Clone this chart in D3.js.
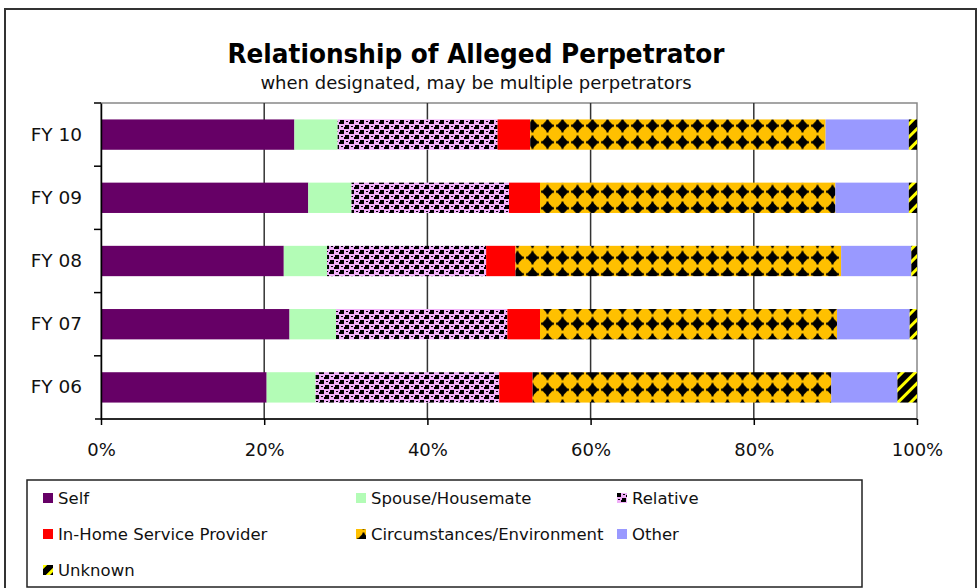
<!DOCTYPE html>
<meta charset="utf-8">
<style type="text/css">
  body {
    margin: 0;
    background: #fff;
    font-family: "DejaVu Sans", sans-serif;
  }
  .axis text {
    font-family: "DejaVu Sans", sans-serif;
    fill: #111;
  }
</style>
<body>
</body>
<script src="https://d3js.org/d3.v7.min.js"></script>
<script>
  // fiscal years, top to bottom
  var years = ["FY 10", "FY 09", "FY 08", "FY 07", "FY 06"];
  var series = ["Self", "Spouse/Housemate", "Relative", "In-Home Service Provider",
    "Circumstances/Environment", "Other", "Unknown"];
  // share of each relationship, percent, one array per series (same order as years)
  var self = [23.7, 25.4, 22.4, 23.1, 20.3];
  var spouse = [5.3, 5.3, 5.3, 5.7, 6.0];
  var relative = [19.6, 19.3, 19.5, 21.0, 22.5];
  var inHome = [4.0, 3.8, 3.6, 4.0, 4.1];
  var circumstances = [36.2, 36.2, 39.9, 36.4, 36.6];
  var other = [10.2, 9.0, 8.6, 8.9, 8.1];
  var unknown = [1.0, 1.0, 0.7, 0.9, 2.4];
  var xTicks = [0, 20, 40, 60, 80, 100];

  var values = [self, spouse, relative, inHome, circumstances, other, unknown];
  var rows = years.map(function(y, i) {
    var r = { year: y };
    series.forEach(function(s, j) { r[s] = values[j][i]; });
    return r;
  });

  var W = 980, H = 588;
  var plot = { left: 101, right: 917, top: 103, bottom: 419 };

  var svg = d3.select("body").append("svg")
    .attr("width", W)
    .attr("height", H);

  var defs = svg.append("defs");

  // Relative: pink with black checks
  var pRel = defs.append("pattern").attr("id", "pRel")
    .attr("patternUnits", "userSpaceOnUse").attr("width", 10).attr("height", 10);
  pRel.append("rect").attr("width", 10).attr("height", 10).attr("fill", "#f0b0f8");
  pRel.append("rect").attr("x", 0).attr("y", 0).attr("width", 4).attr("height", 4).attr("fill", "#000");
  pRel.append("rect").attr("x", 5).attr("y", 5).attr("width", 4).attr("height", 4).attr("fill", "#000");
  pRel.append("rect").attr("x", 6).attr("y", 1).attr("width", 2).attr("height", 1).attr("fill", "#000");
  pRel.append("rect").attr("x", 1).attr("y", 6).attr("width", 2).attr("height", 1).attr("fill", "#000");
  pRel.append("rect").attr("x", 9).attr("y", 2).attr("width", 1).attr("height", 2).attr("fill", "#000");
  pRel.append("rect").attr("x", 4).attr("y", 7).attr("width", 1).attr("height", 2).attr("fill", "#000");

  // Circumstances: orange with black diamonds
  var pCirc = defs.append("pattern").attr("id", "pCirc")
    .attr("patternUnits", "userSpaceOnUse").attr("width", 15).attr("height", 16.5)
    .attr("y", 2);
  pCirc.append("rect").attr("width", 15).attr("height", 16.5).attr("fill", "#ffc000");
  pCirc.append("path").attr("d", "M7.5,2 L13.5,8.25 L7.5,14.5 L1.5,8.25 Z").attr("fill", "#000");
  pCirc.append("rect").attr("x", 1).attr("y", 7.25).attr("width", 13).attr("height", 2).attr("fill", "#000");
  pCirc.append("rect").attr("x", 6.5).attr("y", 1.5).attr("width", 2).attr("height", 13.5).attr("fill", "#000");
  pCirc.append("rect").attr("x", 4.5).attr("y", 5.25).attr("width", 6).attr("height", 6).attr("fill", "#000");

  // Unknown: black with yellow diagonal stripes
  var pUnk = defs.append("pattern").attr("id", "pUnk")
    .attr("patternUnits", "userSpaceOnUse").attr("width", 9).attr("height", 9)
    .attr("patternTransform", "rotate(45)");
  pUnk.append("rect").attr("width", 9).attr("height", 9).attr("fill", "#000");
  pUnk.append("rect").attr("width", 3).attr("height", 9).attr("fill", "#ffff00");

  var fills = {
    "Self": "#660066",
    "Spouse/Housemate": "#b3fcb6",
    "Relative": "url(#pRel)",
    "In-Home Service Provider": "#ff0000",
    "Circumstances/Environment": "url(#pCirc)",
    "Other": "#9999ff",
    "Unknown": "url(#pUnk)"
  };

  // outer frame
  svg.append("rect")
    .attr("x", 5).attr("y", 9)
    .attr("width", 971).attr("height", 600)
    .attr("fill", "none")
    .attr("stroke", "#333")
    .attr("stroke-width", 2);

  svg.append("text")
    .attr("x", 476).attr("y", 63)
    .attr("text-anchor", "middle")
    .style("font-family", "DejaVu Sans, sans-serif")
    .style("font-weight", "bold")
    .style("font-size", "27px")
    .attr("textLength", 497)
    .attr("lengthAdjust", "spacingAndGlyphs")
    .text("Relationship of Alleged Perpetrator");

  svg.append("text")
    .attr("x", 476).attr("y", 89)
    .attr("text-anchor", "middle")
    .style("font-size", "18px")
    .style("fill", "#111")
    .text("when designated, may be multiple perpetrators");

  var x = d3.scaleLinear().domain([0, 100]).range([plot.left, plot.right]);
  var y = d3.scaleBand().domain(years).range([plot.top, plot.bottom])
    .paddingInner(0.52).paddingOuter(0.26);

  // plot area border
  svg.append("rect")
    .attr("x", plot.left).attr("y", plot.top)
    .attr("width", plot.right - plot.left).attr("height", plot.bottom - plot.top)
    .attr("fill", "none")
    .attr("stroke", "#888")
    .attr("stroke-width", 1.5);

  // vertical gridlines
  svg.append("g")
    .selectAll("line")
    .data(xTicks.slice(1, -1))
    .enter().append("line")
    .attr("x1", function(d) { return x(d); })
    .attr("x2", function(d) { return x(d); })
    .attr("y1", plot.top).attr("y2", plot.bottom)
    .attr("stroke", "#333")
    .attr("stroke-width", 1.5);

  var stack = d3.stack().keys(series);
  var layers = stack(rows);

  svg.append("g")
    .selectAll("g")
    .data(layers)
    .enter().append("g")
    .attr("fill", function(d) { return fills[d.key]; })
    .selectAll("rect")
    .data(function(d) { return d; })
    .enter().append("rect")
    .attr("x", function(d) { return x(d[0]); })
    .attr("y", function(d) { return y(d.data.year); })
    .attr("width", function(d) { return x(d[1]) - x(d[0]); })
    .attr("height", y.bandwidth());

  // x axis
  var xAxis = svg.append("g")
    .attr("class", "axis")
    .attr("transform", "translate(0," + plot.bottom + ")")
    .call(d3.axisBottom(x).tickValues(xTicks).tickSize(6).tickPadding(18)
      .tickFormat(function(d) { return d + "%"; }));
  xAxis.select(".domain").attr("stroke", "#000").attr("stroke-width", 1.5)
    .attr("d", "M" + (plot.left - 6) + ",0H" + plot.right);
  xAxis.selectAll(".tick line").attr("stroke", "#000").attr("stroke-width", 1.5);
  xAxis.selectAll("text").style("font-size", "18px");

  // y axis
  var yAxis = svg.append("g")
    .attr("class", "axis")
    .attr("transform", "translate(" + plot.left + ",0)")
    .call(d3.axisLeft(y).tickSize(0).tickPadding(19));
  yAxis.select(".domain").attr("stroke", "#000").attr("stroke-width", 1.5);
  yAxis.selectAll("text").style("font-size", "18.5px");
  // tick marks between categories
  var bounds = years.map(function(d) { return y(d) - y.step() * y.paddingInner() / 2; });
  yAxis.selectAll(".sep")
    .data(bounds)
    .enter().append("line")
    .attr("class", "sep")
    .attr("x1", -7).attr("x2", 0)
    .attr("y1", function(d) { return d; }).attr("y2", function(d) { return d; })
    .attr("stroke", "#000").attr("stroke-width", 1.5);

  // legend
  svg.append("rect")
    .attr("x", 27).attr("y", 480)
    .attr("width", 835).attr("height", 107)
    .attr("fill", "#fff")
    .attr("stroke", "#222")
    .attr("stroke-width", 1.5);

  var colX = [43, 356, 617];
  var rowY = [493, 529, 565];
  var legend = svg.append("g")
    .selectAll("g")
    .data(series)
    .enter().append("g")
    .attr("transform", function(d, i) {
      return "translate(" + colX[i % 3] + "," + rowY[Math.floor(i / 3)] + ")";
    });
  legend.append("rect")
    .attr("width", 10).attr("height", 10)
    .attr("fill", function(d) { return fills[d]; });
  legend.append("text")
    .attr("x", 15).attr("y", 11)
    .style("font-size", "16.5px")
    .style("fill", "#111")
    .text(function(d) { return d; });
</script>
